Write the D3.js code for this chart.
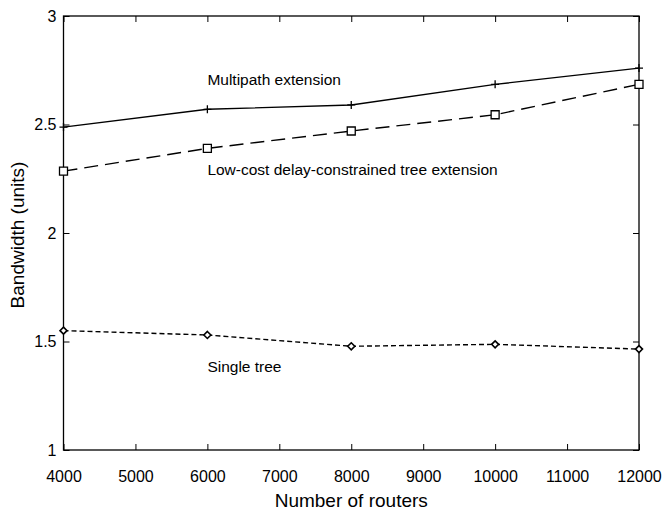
<!DOCTYPE html>
<html>
<head>
<meta charset="utf-8">
<script src="https://cdn.jsdelivr.net/npm/d3@7"></script>
<style>
  html, body { margin: 0; padding: 0; background: #fff; }
  text { font-family: "Liberation Sans", Arial, sans-serif; fill: #000; }
</style>
</head>
<body>
<svg id="chart" width="668" height="512"></svg>
<script>
const routers = [4000, 6000, 8000, 10000, 12000]
const multipath = [2.488, 2.57, 2.59, 2.685, 2.76]
const lowCost = [2.285, 2.39, 2.47, 2.545, 2.685]
const singleTree = [1.55, 1.53, 1.478, 1.487, 1.465]

const xTicks = [4000, 5000, 6000, 7000, 8000, 9000, 10000, 11000, 12000]
const yTicks = [1, 1.5, 2, 2.5, 3]

const m = {top: 16, right: 29, bottom: 62, left: 63.5}
const width = 668, height = 512
const iw = width - m.left - m.right
const ih = height - m.top - m.bottom

const svg = d3.select("#chart")
const g = svg.append("g").attr("transform", `translate(${m.left},${m.top})`)

const x = d3.scaleLinear().domain([4000, 12000]).range([0, iw])
const y = d3.scaleLinear().domain([1, 3]).range([ih, 0])

// frame with inward ticks on all four sides (matlab style)
g.append("rect").attr("width", iw).attr("height", ih)
  .attr("fill", "none").attr("stroke", "#000").attr("stroke-width", 1.3)

const styleAxis = (gg) => {
  gg.select(".domain").remove()
  gg.selectAll("line").attr("stroke", "#000").attr("stroke-width", 1)
  gg.selectAll("text").attr("font-size", 16)
}

g.append("g").attr("transform", `translate(0,${ih})`)
  .call(d3.axisBottom(x).tickValues(xTicks).tickFormat(d3.format("d")).tickSizeInner(-6).tickSizeOuter(0).tickPadding(21))
  .call(styleAxis)
g.append("g")
  .call(d3.axisTop(x).tickValues(xTicks).tickFormat("").tickSizeInner(-6).tickSizeOuter(0))
  .call(styleAxis)
g.append("g")
  .call(d3.axisLeft(y).tickValues(yTicks).tickFormat(d3.format("")).tickSizeInner(-6).tickSizeOuter(0).tickPadding(7))
  .call(styleAxis)
g.append("g").attr("transform", `translate(${iw},0)`)
  .call(d3.axisRight(y).tickValues(yTicks).tickFormat("").tickSizeInner(-6).tickSizeOuter(0))
  .call(styleAxis)

const line = d3.line().x((d, i) => x(routers[i])).y((d) => y(d))

const series = [
  {vals: multipath, dash: null, marker: "plus"},
  {vals: lowCost, dash: "14,7", marker: "square"},
  {vals: singleTree, dash: "5,3", marker: "diamond"},
]

series.forEach((s) => {
  g.append("path").datum(s.vals).attr("d", line)
    .attr("fill", "none").attr("stroke", "#000").attr("stroke-width", 1.4)
    .attr("stroke-dasharray", s.dash)
  const mk = g.append("g").selectAll("path").data(s.vals).join("path")
    .attr("transform", (d, i) => `translate(${x(routers[i])},${y(d)})`)
    .attr("stroke", "#000").attr("stroke-width", 1.3)
  if (s.marker === "plus") mk.attr("d", "M-4,0H4M0,-4V4").attr("fill", "none")
  if (s.marker === "square") mk.attr("d", "M-4,-4H4V4H-4Z").attr("fill", "#fff")
  if (s.marker === "diamond") mk.attr("d", "M0,-3.5L3.5,0L0,3.5L-3.5,0Z").attr("fill", "#fff").attr("stroke-width", 1.6)
})

const labels = [
  {t: "Multipath extension", xv: 6000, yv: 2.684},
  {t: "Low-cost delay-constrained tree extension", xv: 6000, yv: 2.269},
  {t: "Single tree", xv: 6000, yv: 1.359},
]
g.append("g").selectAll("text").data(labels).join("text")
  .attr("x", (d) => x(d.xv)).attr("y", (d) => y(d.yv))
  .attr("font-size", 15.5).text((d) => d.t)

svg.append("text").attr("x", m.left + iw / 2).attr("y", 507)
  .attr("text-anchor", "middle").attr("font-size", 19).text("Number of routers")
svg.append("text").attr("transform", `translate(24,${m.top + ih / 2 + 2}) rotate(-90)`)
  .attr("text-anchor", "middle").attr("font-size", 19).text("Bandwidth (units)")
</script>
</body>
</html>
